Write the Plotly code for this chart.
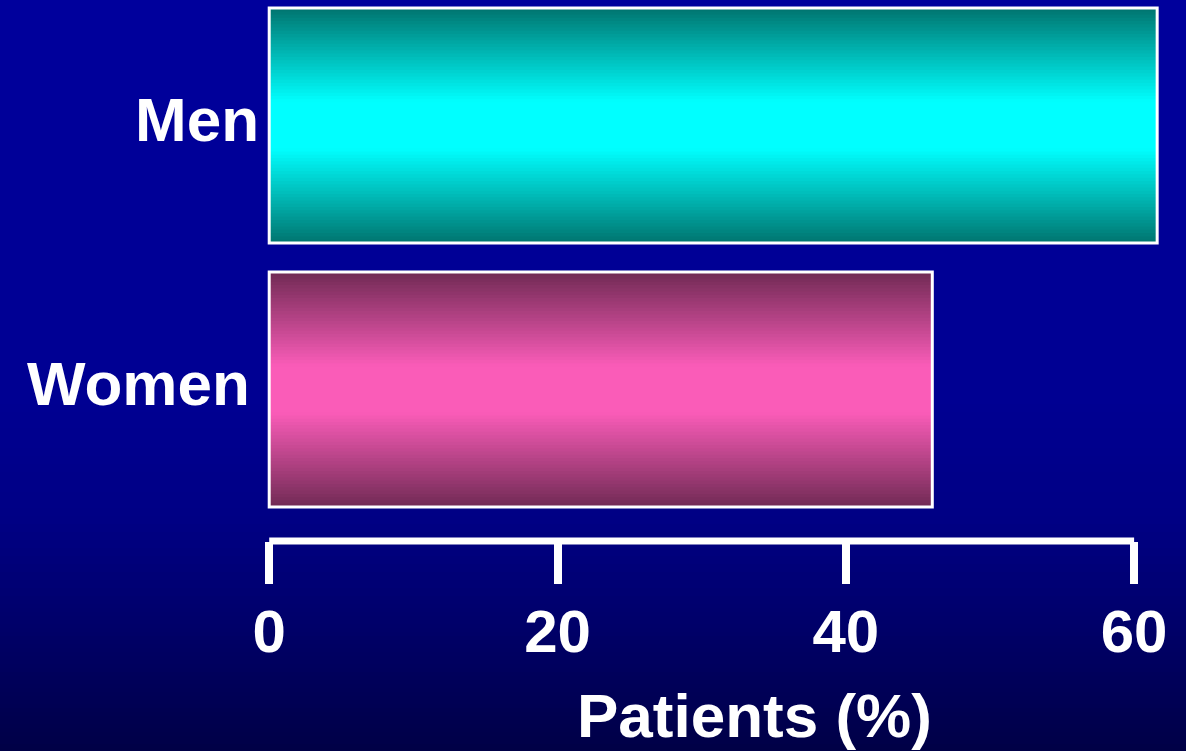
import plotly.graph_objects as go

# Data
groups = ["Men", "Women"]
patients_pct = [61.6, 46.0]
x_ticks = [0, 20, 40, 60]
x_title = "Patients (%)"

# Styles
FONT = "Liberation Sans, Arial, Helvetica, sans-serif"
bar_center_rgb = {"Men": (0, 255, 255), "Women": (250, 92, 184)}
bar_edge_rgb = {"Men": (0, 116, 110), "Women": (112, 42, 84)}
label_xshift = {"Men": -1, "Women": -10}
BAR_WIDTH = 0.89
LEVELS = 36

W, H = 1186, 751
M_L, M_R, M_T, M_B = 262, 0, 0, 210
PLOT_H = H - M_T - M_B


def mix(c0, c1, t):
    return "rgb({},{},{})".format(*[round(a + (b - a) * t) for a, b in zip(c0, c1)])


fig = go.Figure()

# Bars: concentric overlaid bands, darker at the edges, bright in the middle
for i in range(LEVELS):
    d_outer = 1 - i / LEVELS
    d_mid = 1 - (i + 0.5) / LEVELS
    t = max(0.0, min(1.0, (d_mid - 0.2) / 0.8))
    colors = [mix(bar_center_rgb[g], bar_edge_rgb[g], t) for g in groups]
    fig.add_trace(go.Bar(
        x=patients_pct, y=groups, orientation="h",
        width=BAR_WIDTH * d_outer,
        marker=dict(color=colors, line=dict(width=0)),
        hoverinfo="skip" if i else "x+y", showlegend=False,
    ))

# White outline on top
fig.add_trace(go.Bar(
    x=patients_pct, y=groups, orientation="h", width=BAR_WIDTH,
    marker=dict(color="rgba(0,0,0,0)", line=dict(color="white", width=3)),
    hoverinfo="skip", showlegend=False,
))

# Background gradient strips
bg_stops = [(0, (0, 0, 156)), (400, (0, 0, 146)), (520, (0, 0, 132)),
            (600, (0, 0, 112)), (751, (0, 0, 70))]


def bg_color(py):
    for (y0, c0), (y1, c1) in zip(bg_stops[:-1], bg_stops[1:]):
        if py <= y1:
            return mix(c0, c1, (py - y0) / (y1 - y0))
    return mix(bg_stops[-1][1], bg_stops[-1][1], 0)


shapes = []
STRIP = 4
for py in range(0, H, STRIP):
    shapes.append(dict(
        type="rect", xref="paper", yref="paper", layer="below",
        x0=-1, x1=2,
        y0=(PLOT_H - (py + STRIP + 1)) / PLOT_H, y1=(PLOT_H - py) / PLOT_H,
        fillcolor=bg_color(py + STRIP / 2), line=dict(width=0),
    ))

# Axis baseline spanning the tick range
shapes.append(dict(
    type="line", xref="x", yref="paper",
    x0=x_ticks[0], x1=x_ticks[-1], y0=0, y1=0,
    line=dict(color="white", width=7), layer="above",
))

annotations = [
    dict(text=f"<b>{g}</b>", xref="paper", yref="y", x=0, y=g,
         xanchor="right", yanchor="middle", xshift=label_xshift[g], yshift=6,
         showarrow=False, font=dict(family=FONT, size=62, color="white"))
    for g in groups
]
annotations.append(dict(
    text=f"<b>{x_title}</b>", xref="paper", yref="paper",
    x=(754 - M_L) / (W - M_L - M_R), y=-(716 - PLOT_H) / PLOT_H,
    xanchor="center", yanchor="middle", showarrow=False,
    font=dict(family=FONT, size=62, color="white"),
))

fig.update_layout(
    width=W, height=H,
    margin=dict(l=M_L, r=M_R, t=M_T, b=M_B, pad=0),
    barmode="overlay",
    paper_bgcolor="rgb(0,0,140)",
    plot_bgcolor="rgba(0,0,0,0)",
    shapes=shapes,
    annotations=annotations,
    xaxis=dict(
        range=[-0.5, 63.6], tickvals=x_ticks,
        ticktext=[f"<b>{v}</b>" for v in x_ticks],
        ticks="outside", ticklen=42, tickwidth=8, tickcolor="white",
        ticklabelstandoff=-4,
        showline=False, showgrid=False, zeroline=False,
        tickfont=dict(family=FONT, size=60, color="white"),
        fixedrange=True,
    ),
    yaxis=dict(
        type="category", categoryarray=["Women", "Men"],
        range=[-0.574, 1.475],
        showticklabels=False, ticks="", showgrid=False,
        zeroline=False, showline=False, fixedrange=True,
    ),
    showlegend=False,
)

fig.write_html("out.html", config={"displayModeBar": False})
